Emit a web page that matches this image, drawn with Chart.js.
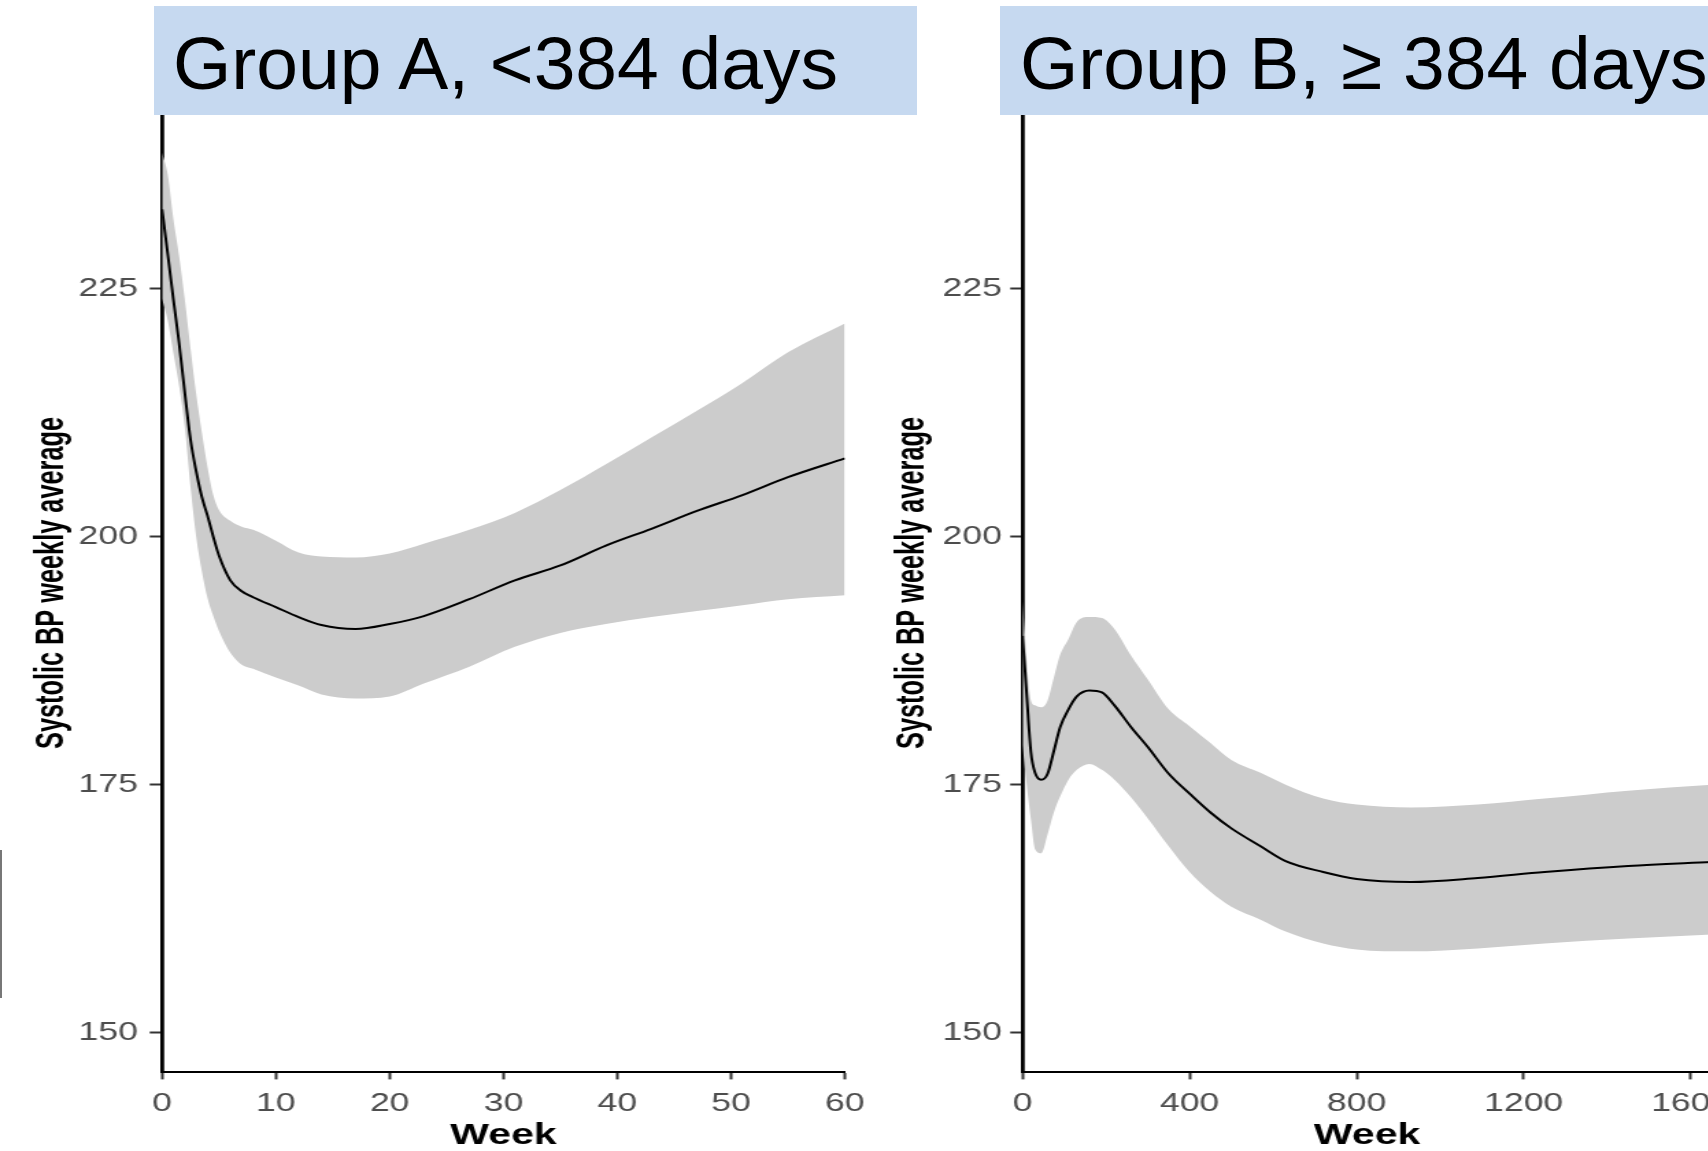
<!DOCTYPE html>
<html>
<head>
<meta charset="utf-8">
<script src="https://cdn.jsdelivr.net/npm/chart.js@4.4.1/dist/chart.umd.min.js"></script>
<style>
  html, body { margin: 0; padding: 0; background: #fff; width: 1708px; height: 1151px; overflow: hidden; }
  body { position: relative; }
  canvas { position: absolute; top: 0; }
  .panel-title {
    position: absolute; top: 6px; height: 109px; box-sizing: border-box;
    background: #c6d9f0; color: #000; white-space: nowrap; overflow: hidden; z-index: 2;
    font-family: "Liberation Sans", Arial, sans-serif; font-size: 75px; line-height: 115px;
  }
</style>
</head>
<body>
<canvas id="chartA" width="640" height="1151" style="left:0;width:876.8px;height:1151px"></canvas>
<canvas id="chartB" width="640" height="1151" style="left:877px;width:876.8px;height:1151px"></canvas>
<div class="panel-title" style="left:154px;width:763px;padding-left:19px">Group A, &lt;384 days</div>
<div class="panel-title" style="left:1000px;width:708px;padding-left:20px">Group B, ≥ 384 days</div>
<div style="position:absolute;left:0;top:850px;width:2px;height:148px;background:#777"></div>

<script>
// the original plot is stretched sideways, so each canvas is drawn narrow and widened by css
const STRETCH = 1.37
const FONT = '"Liberation Sans", Arial, sans-serif'

const yLabel = 'Systolic BP weekly average'
const xLabel = 'Week'
const yTicks = [150, 175, 200, 225]

// Group A
const weekA = [0, 0.5, 1, 1.5, 2, 2.5, 3, 3.5, 4, 4.5, 5, 6, 7, 8, 10, 12, 14, 17, 20, 23, 27, 31, 35, 39, 43, 47, 51, 55, 60]
const meanA = [233, 228.5, 223.9, 219.5, 214.5, 209.8, 206.6, 204.0, 202.1, 200.0, 198.1, 195.6, 194.5, 193.9, 192.9, 191.9, 191.1, 190.7, 191.2, 192.0, 193.7, 195.6, 197.1, 199.1, 200.8, 202.6, 204.2, 206.0, 207.9]
const upperA = [238.7, 236.5, 232.0, 228.3, 223.9, 219.0, 214.4, 210.5, 207.0, 204.2, 202.7, 201.6, 201.0, 200.7, 199.6, 198.4, 198.0, 197.9, 198.3, 199.3, 200.7, 202.4, 204.7, 207.3, 210.0, 212.7, 215.5, 218.6, 221.5]
const lowerA = [224.0, 221.8, 218.5, 215.2, 211.0, 205.0, 200.0, 196.5, 193.8, 192.0, 190.5, 188.3, 187.1, 186.7, 185.8, 185.0, 184.1, 183.7, 183.9, 185.2, 186.9, 188.9, 190.3, 191.2, 191.9, 192.5, 193.1, 193.7, 194.1]
const xTicksA = [0, 10, 20, 30, 40, 50, 60]

// Group B
const weekB = [0, 10, 20, 30, 45, 60, 75, 90, 110, 130, 160, 190, 220, 260, 300, 350, 400, 450, 500, 570, 630, 720, 800, 930, 1090, 1250, 1450, 1650]
const meanB = [190.0, 184.0, 178.3, 176.2, 175.5, 176.1, 178.4, 180.8, 182.6, 183.9, 184.5, 184.3, 183.0, 180.8, 178.8, 176.1, 174.1, 172.2, 170.6, 168.8, 167.3, 166.2, 165.5, 165.2, 165.6, 166.2, 166.8, 167.2]
const upperB = [193.5, 187.5, 183.5, 183.0, 182.8, 183.5, 185.8, 188.1, 189.7, 191.4, 191.9, 191.8, 190.7, 188.0, 185.6, 182.6, 180.9, 179.2, 177.5, 176.2, 175.0, 173.6, 173.0, 172.7, 173.0, 173.6, 174.4, 175.0]
const lowerB = [179.0, 175.0, 171.5, 168.5, 168.1, 170.0, 172.2, 173.8, 175.5, 176.5, 177.1, 176.5, 175.5, 173.7, 171.6, 168.8, 166.2, 164.2, 162.7, 161.4, 160.2, 159.0, 158.4, 158.2, 158.5, 159.0, 159.5, 159.9]
const xTicksB = [0, 400, 800, 1200, 1600]


function toPoints(xs, ys) {
    return xs.map((x, i) => ({ x: x, y: ys[i] }))
}

// rotated, squeezed y title like the R output
function yTitlePlugin(baseX) {
    return {
        id: 'yTitle',
        afterDraw(chart) {
            const ctx = chart.ctx
            ctx.save()
            ctx.font = 'bold 30px ' + FONT
            const w = ctx.measureText(yLabel).width
            ctx.translate(baseX, 583)
            ctx.rotate(-Math.PI / 2)
            ctx.scale(332 / w, 1)
            ctx.textAlign = 'center'
            ctx.textBaseline = 'alphabetic'
            ctx.fillStyle = '#000'
            ctx.fillText(yLabel, 0, 0)
            ctx.restore()
        }
    }
}

function drawPanel(id, p) {
    const ctx = document.getElementById(id).getContext('2d')

    return new Chart(ctx, {
        type: 'line',
        data: {
            datasets: [
                {
                    data: toPoints(p.weeks, p.mean),
                    borderColor: '#000',
                    borderWidth: 2,
                    pointRadius: 0,
                    cubicInterpolationMode: 'monotone',
                    fill: false
                },
                {
                    data: toPoints(p.weeks, p.upper),
                    borderWidth: 0,
                    borderColor: 'rgba(0,0,0,0)',
                    pointRadius: 0,
                    cubicInterpolationMode: 'monotone',
                    fill: false
                },
                {
                    data: toPoints(p.weeks, p.lower),
                    borderWidth: 0,
                    borderColor: 'rgba(0,0,0,0)',
                    backgroundColor: '#cccccc',
                    pointRadius: 0,
                    cubicInterpolationMode: 'monotone',
                    fill: '-1'
                }
            ]
        },
        options: {
            responsive: false,
            animation: false,
            events: [],
            layout: {
                padding: { left: 0, top: 90.3, right: p.rightPad, bottom: 0 }
            },
            plugins: {
                legend: { display: false },
                tooltip: { enabled: false }
            },
            scales: {
                x: {
                    type: 'linear',
                    min: 0,
                    max: p.xMax,
                    afterBuildTicks: s => { s.ticks = p.xTicks.map(v => ({ value: v })) },
                    afterFit: s => { s.height = 78.6 },
                    grid: { drawOnChartArea: false, drawTicks: true, tickLength: 7, tickWidth: 2, tickColor: '#333' },
                    border: { display: true, color: '#000', width: 2 },
                    ticks: {
                        color: '#4d4d4d',
                        font: { family: FONT, size: 26, lineHeight: 1.2 },
                        padding: 9,
                        maxRotation: 0,
                        autoSkip: false,
                        callback: v => String(v)
                    },
                    title: {
                        display: true,
                        text: xLabel,
                        color: '#000',
                        font: { family: FONT, size: 30, weight: 'bold', lineHeight: 1 },
                        padding: { top: 0, bottom: 0 }
                    }
                },
                y: {
                    type: 'linear',
                    min: 146,
                    max: 245,
                    afterBuildTicks: s => { s.ticks = yTicks.map(v => ({ value: v })) },
                    afterFit: s => { s.width = p.axisWidth },
                    grid: { drawOnChartArea: false, drawTicks: true, tickLength: 9, tickWidth: 2, tickColor: '#333' },
                    border: { display: true, color: '#000', width: 2.8 },
                    ticks: {
                        color: '#4d4d4d',
                        font: { family: FONT, size: 26, lineHeight: 1.2 },
                        padding: p.labelPad,
                        autoSkip: false,
                        callback: v => String(v)
                    }
                }
            }
        },
        plugins: [yTitlePlugin(p.titleX)]
    })
}

drawPanel('chartA', {
    weeks: weekA, mean: meanA, upper: upperA, lower: lowerA,
    xTicks: xTicksA, xMax: 60,
    axisWidth: 162 / STRETCH,
    rightPad: 640 - 849.5 / STRETCH,
    labelPad: 8.5,
    titleX: 63 / STRETCH
})

drawPanel('chartB', {
    weeks: weekB, mean: meanB, upper: upperB, lower: lowerB,
    xTicks: xTicksB, xMax: 1650,
    axisWidth: (1022.5 - 877) / STRETCH,
    rightPad: 640 - (1711.4 - 877) / STRETCH,
    labelPad: 6,
    titleX: (923 - 877) / STRETCH
})
</script>
</body>
</html>
